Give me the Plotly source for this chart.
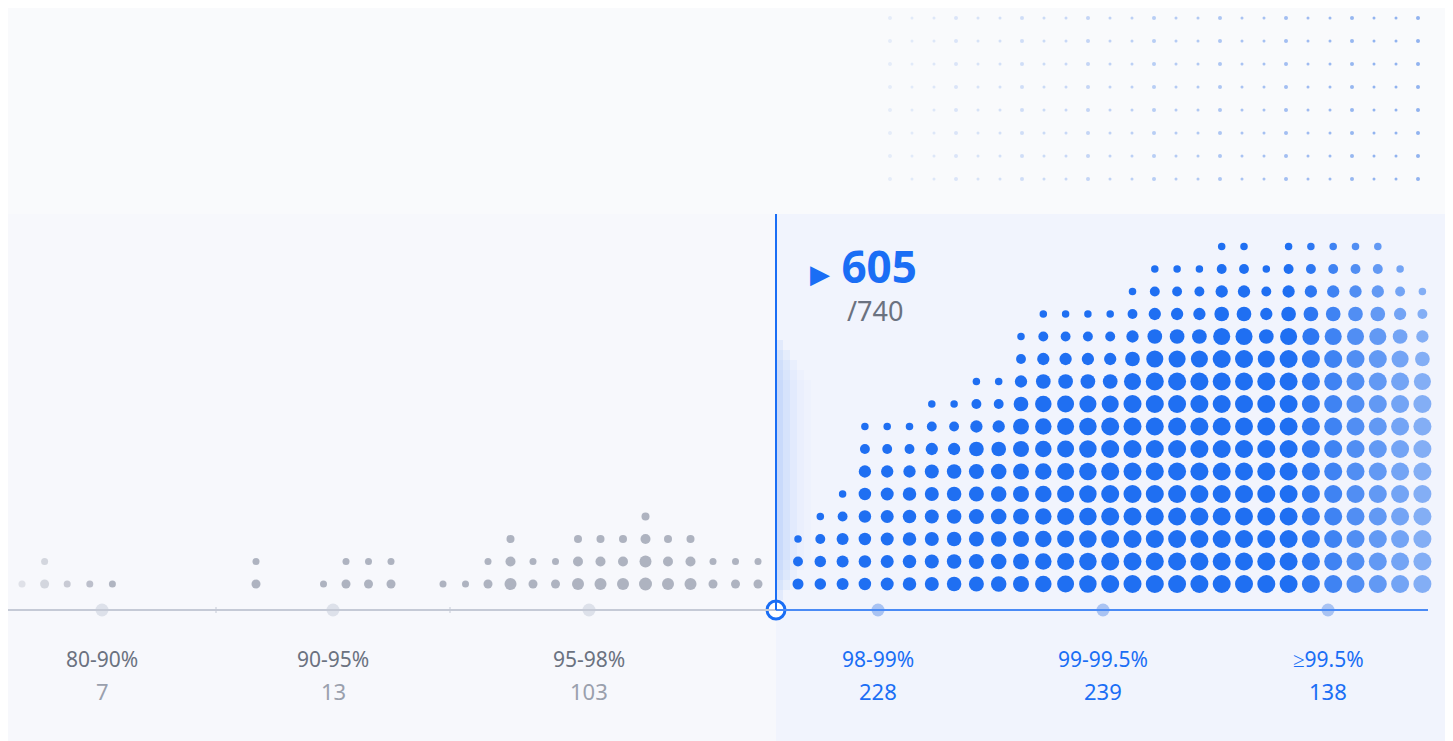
import plotly.graph_objects as go

categories = ["80-90%", "90-95%", "95-98%", "98-99%", "99-99.5%", "≥99.5%"]
counts = [7, 13, 103, 228, 239, 138]
highlight_value = 605
total = 740

# dot column heights per group (illustrative stacks)
g1_heights = [1, 2, 1, 1, 1]
g2_heights = [2, 0, 0, 1, 2, 2, 2]
g3_heights = [1, 1, 2, 3, 2, 2, 3, 3, 3, 4, 3, 3, 2, 2, 2]
blue_heights = [3, 4, 5, 8, 8, 8, 9, 9, 10, 10, 12, 13, 13, 13, 13, 14, 15, 15, 15,
                16, 16, 15, 16, 16, 16, 16, 16, 15, 14]

W, H = 1453, 741
OFF = 8  # page body margin compensation
BASE_Y, ROW = 584, 22.5
AXIS_Y = 610
GRAY, BLUE = "#6b7280", "#1a6ef5"

fig = go.Figure()

shapes = [
    dict(type="rect", x0=-20, x1=W + 20, y0=-20, y1=780, fillcolor="#f7f8fc", line_width=0, layer="below"),
    dict(type="rect", x0=-20, x1=W + 20, y0=-20, y1=214, fillcolor="#f9fafc", line_width=0, layer="below"),
    dict(type="rect", x0=776, x1=W + 20, y0=214, y1=780, fillcolor="#f1f4fd", line_width=0, layer="below"),
]
for i, a in enumerate([0.07, 0.05, 0.035, 0.02, 0.01]):
    shapes.append(dict(type="rect", x0=776, x1=776 + 7 * (i + 1), y0=340 + 10 * i, y1=600 - 10 * i,
                       fillcolor=f"rgba(26,110,245,{a})", line_width=0, layer="below"))

# decorative texture top-right
tx, ty, ts, tc = [], [], [], []
for r in range(8):
    for c in range(25):
        tx.append(890 + c * 22); ty.append(18 + r * 23)
        ts.append(3 + (c % 3 == 0))
        a = min(0.55, 0.1 + 0.02 * c)
        tc.append(f"rgba(60,120,230,{a:.2f})")
fig.add_trace(go.Scatter(x=tx, y=ty, mode="markers", hoverinfo="skip",
                         marker=dict(size=ts, color=tc, line_width=0, opacity=1)))

def add_group(start, step, heights, blue, fade_left=False):
    xs, ys, ss, cs = [], [], [], []
    n = len(heights)
    for i, h in enumerate(heights):
        x = start + i * step
        for r in range(h):
            xs.append(x); ys.append(BASE_Y - r * ROW)
            from_top = h - 1 - r
            if blue:
                cap = min(18, 11 + i * 0.5)
                s = min(cap, 7.5 + from_top * 2.4)
                frac = i / (n - 1)
                if frac > 0.8:
                    a = 1 - (frac - 0.8) * 3
                    col = f"rgba({int(31+(140-31)*(1-a))},{int(111+(178-111)*(1-a))},242,{0.6+0.4*a:.2f})"
                else:
                    col = "rgb(31,111,242)"
            else:
                s = min(13, 7 + from_top * 2 + (1 if h > 2 else 0))
                a = 0.75
                if fade_left:
                    a = 0.25 + 0.12 * i
                col = f"rgba(150,156,172,{a:.2f})"
            ss.append(s); cs.append(col)
    fig.add_trace(go.Scatter(x=xs, y=ys, mode="markers", hoverinfo="skip",
                             marker=dict(size=ss, color=cs, line_width=0, opacity=1)))

add_group(22, 22.6, g1_heights, False, fade_left=True)
add_group(256, 22.5, g2_heights, False)
add_group(443, 22.5, g3_heights, False)
add_group(798, 22.3, blue_heights, True)

shapes += [
    dict(type="line", x0=8, x1=776, y0=AXIS_Y, y1=AXIS_Y, line=dict(color="#c5cad6", width=2)),
    dict(type="line", x0=776, x1=1428, y0=AXIS_Y, y1=AXIS_Y, line=dict(color="#4a8af5", width=2)),
    dict(type="line", x0=776, x1=776, y0=214, y1=AXIS_Y, line=dict(color=BLUE, width=2)),
]
for sx in [216, 450]:
    shapes.append(dict(type="line", x0=sx, x1=sx, y0=AXIS_Y - 3, y1=AXIS_Y + 3, line=dict(color="#c5cad6", width=1)))

tick_x = [102, 333, 589, 878, 1103, 1328]
fig.add_trace(go.Scatter(x=tick_x, y=[AXIS_Y] * 6, mode="markers", hoverinfo="skip",
                         marker=dict(size=13, color=["#dde1ea"] * 3 + ["#a9c3f3"] * 3, line_width=0, opacity=1)))
fig.add_trace(go.Scatter(x=[776], y=[AXIS_Y], mode="markers", hoverinfo="skip",
                         marker=dict(size=18, color="white", line=dict(color=BLUE, width=3), opacity=1)))

ann = []
for i, (c, n) in enumerate(zip(categories, counts)):
    col = GRAY if i < 3 else BLUE
    ann.append(dict(x=tick_x[i], y=659, text=c, showarrow=False,
                    font=dict(size=21, color=col, family="Noto Sans")))
    ann.append(dict(x=tick_x[i], y=691, text=str(n), showarrow=False,
                    font=dict(size=22, color="#9aa0ad" if i < 3 else BLUE, family="Noto Sans")))
ann.append(dict(x=808, y=266, xanchor="left",
                text=f"<span style='font-size:26px'>▶</span> <b>{highlight_value}</b>", showarrow=False,
                font=dict(size=44, color=BLUE, family="Noto Sans")))
ann.append(dict(x=845, y=310, xanchor="left", text=f"/{total}", showarrow=False,
                font=dict(size=27, color=GRAY, family="Noto Sans")))

fig.update_layout(width=W, height=H, margin=dict(l=0, r=0, t=0, b=0),
                  paper_bgcolor="#f7f8fc", plot_bgcolor="#f7f8fc", showlegend=False,
                  xaxis=dict(range=[OFF, W + OFF], visible=False, fixedrange=True),
                  yaxis=dict(range=[H + OFF, OFF], visible=False, fixedrange=True),
                  shapes=shapes, annotations=ann)
fig.write_html("out.html")
